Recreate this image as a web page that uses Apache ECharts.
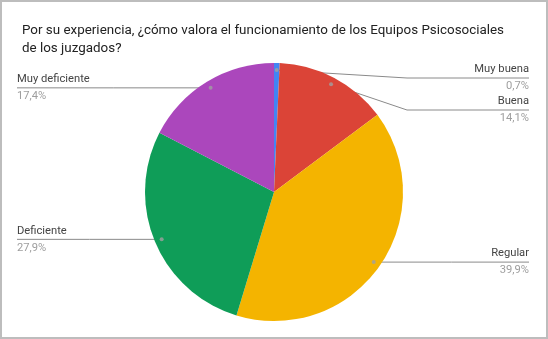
<!DOCTYPE html>
<html>
<head>
<meta charset="utf-8">
<script src="https://cdn.jsdelivr.net/npm/echarts@6/dist/echarts.min.js"></script>
<style>
  html, body { margin:0; padding:0; background:#fff; }
  #wrap { position:absolute; left:0; top:0; width:548px; height:339px; }
  #chart { position:absolute; left:0; top:0; width:548px; height:339px; }
  #frame { position:absolute; left:0; top:0; width:548px; height:339px; box-sizing:border-box; border:2px solid #bdbdbd; pointer-events:none; }
</style>
</head>
<body>
<div id="wrap"><div id="chart"></div><div id="frame"></div></div>
<script>
const titleText = 'Por su experiencia, ¿cómo valora el funcionamiento de los Equipos Psicosociales\nde los juzgados?';
const categories = ['Muy buena', 'Buena', 'Regular', 'Deficiente', 'Muy deficiente'];
const values = [0.7, 14.1, 39.9, 27.9, 17.4];
const colors = ['#4285f4', '#db4437', '#f4b400', '#0f9d58', '#ab47bc'];

// layout constants
const CX = 274, CY = 192, R = 129;
const DOT_R = 0.945;
const LEFT_X = 17, RIGHT_X = 529;
const LABEL_H = 32;

const total = values.reduce((a, b) => a + b, 0);
const mids = [];
{
  let acc = 0;
  values.forEach(v => { mids.push((acc + v / 2) / total * 100); acc += v; });
}
function dotPos(i) {
  const a = mids[i] / 100 * 2 * Math.PI;
  return [CX + DOT_R * R * Math.sin(a), CY - DOT_R * R * Math.cos(a)];
}
// label line y positions with simple overlap avoidance
const labelY = [];
{
  const topLimit = CY - R + 15;
  const right = [], left = [];
  values.forEach((v, i) => { (mids[i] <= 50 ? right : left).push(i); });
  let prev = -Infinity;
  right.forEach(i => { const y = Math.max(dotPos(i)[1], prev + LABEL_H, topLimit); labelY[i] = y; prev = y; });
  prev = -Infinity;
  left.slice().reverse().forEach(i => { const y = Math.max(dotPos(i)[1], prev + LABEL_H, topLimit); labelY[i] = y; prev = y; });
}

const chart = echarts.init(document.getElementById('chart'));
chart.setOption({
  animation: false,
  title: {
    text: titleText,
    left: 17, top: 17,
    textStyle: { fontFamily: 'Roboto', fontSize: 13.4, fontWeight: 'normal', color: '#222', lineHeight: 18 }
  },
  polar: { center: [CX, CY], radius: R },
  angleAxis: { type: 'value', min: 0, max: 100, startAngle: 90, clockwise: true, show: false },
  radiusAxis: { type: 'value', min: 0, max: 1, show: false },
  series: [
    {
      type: 'pie',
      center: [CX, CY],
      radius: R,
      startAngle: 90,
      clockwise: true,
      silent: true,
      data: categories.map((c, i) => ({ name: c, value: values[i], itemStyle: { color: colors[i] } })),
      label: {
        show: true,
        position: 'outside',
        formatter: p => '{n|' + p.name + '}\n{p|' + String(values[p.dataIndex]).replace('.', ',') + '%}',
        rich: {
          n: { fontFamily: 'Roboto', fontSize: 11.2, color: '#444', lineHeight: 17 },
          p: { fontFamily: 'Roboto', fontSize: 11.2, color: '#9e9e9e', lineHeight: 17 }
        }
      },
      labelLine: { show: true, length: 10, length2: 10, lineStyle: { color: '#8a8a8a', width: 1 } },
      labelLayout: function (params) {
        const i = params.dataIndex;
        const d = dotPos(i);
        const y = labelY[i];
        const isRight = mids[i] <= 50;
        const bendX = isRight ? CX + R + 4 : CX - R - 4;
        const endX = isRight ? RIGHT_X : LEFT_X;
        const bend = Math.abs(y - d[1]) < 0.5 ? [(d[0] + endX) / 2, y] : [bendX, y];
        return {
          x: endX,
          y: y,
          align: isRight ? 'right' : 'left',
          verticalAlign: 'middle',
          labelLinePoints: [d, bend, [endX, y]]
        };
      }
    },
    {
      type: 'scatter',
      coordinateSystem: 'polar',
      silent: true,
      symbol: 'circle',
      symbolSize: 4,
      itemStyle: { color: '#a0a0a0' },
      z: 5,
      data: mids.map(m => [DOT_R, m])
    }
  ]
});
</script>
</body>
</html>
